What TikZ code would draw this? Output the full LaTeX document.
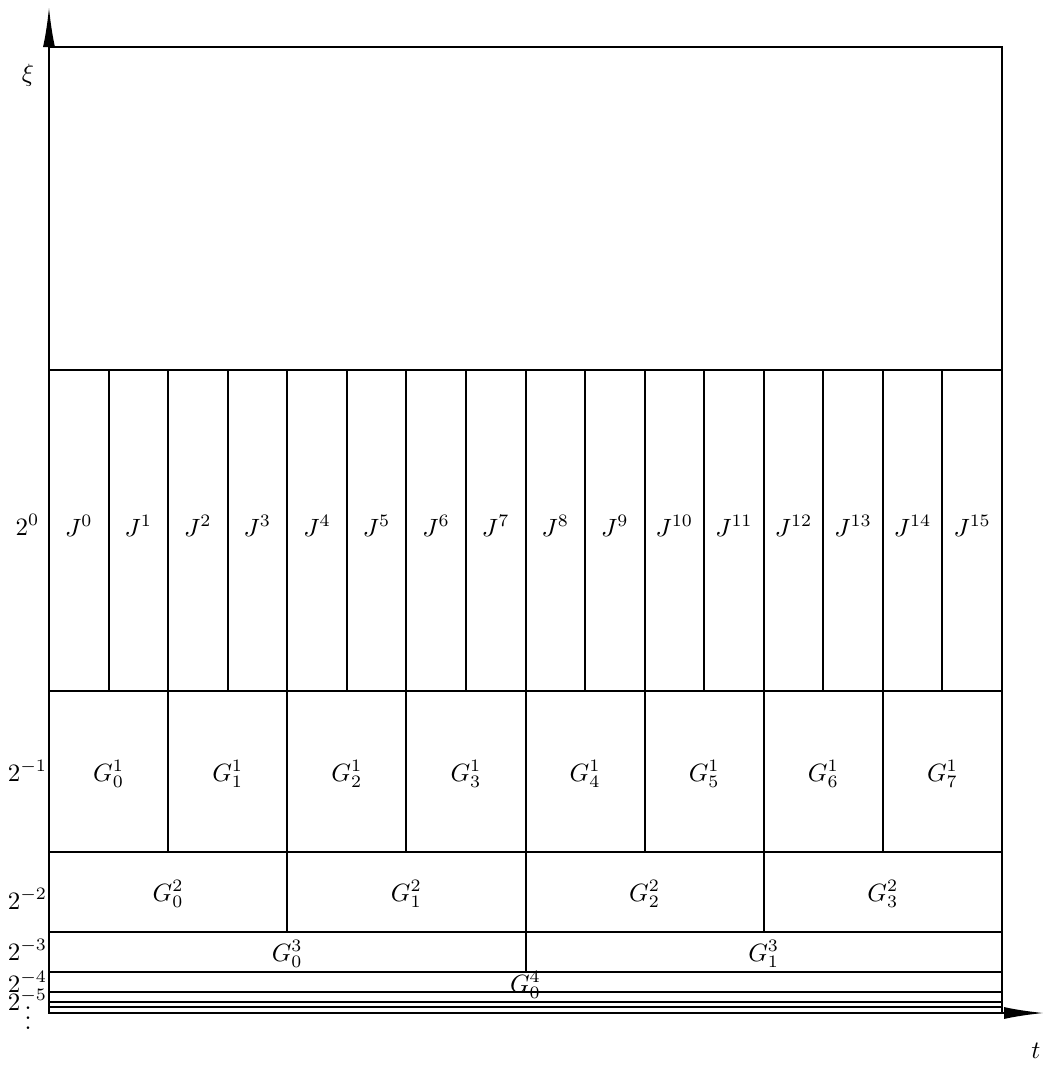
\documentclass[tikz,border=0pt]{standalone}
\usetikzlibrary{arrows.meta}
\begin{document}
\begin{tikzpicture}[x=1pt,y=-1pt,line width=2pt,
  lbl/.style={font=\fontsize{10}{12}\selectfont,inner sep=0pt,scale=2.5},
  axisarrow/.style={-{Latex[length=40pt,width=12pt]}}]
\useasboundingbox (0,0) rectangle (1046,1068);
\pgfmathsetmacro{\W}{953/16}
% frame
\draw (49,47) rectangle (1002,1013);
% horizontal band lines
\foreach \yy in {47,370,691,852,932,972,992,1002,1007}
  \draw (49,\yy) -- (1002,\yy);
% vertical lines
\foreach \k in {1,...,15}{
  \pgfmathsetmacro{\xx}{round(49+\k*\W)}
  \pgfmathsetmacro{\yy}{mod(\k,8)==0 ? 972 : (mod(\k,4)==0 ? 932 : (mod(\k,2)==0 ? 852 : 691))}
  \draw (\xx,370) -- (\xx,\yy);
}
% axes
\coordinate (O) at (49,1013);
\coordinate (ytip) at (49,7);
\coordinate (xtip) at (1044,1013);
\draw[axisarrow] (O) -- (ytip);
\draw[axisarrow] (O) -- (xtip);
\node[lbl] (xi) at (28,75) {$\xi$};
\node[lbl] (t) at (1036,1051) {$t$};
% J labels
\foreach \k in {0,...,15}
  \node[lbl,anchor=base] (J\k) at ({49+(\k+0.5)*\W},536) {$J^{\k}$};
% G labels
\foreach \k in {0,...,7}
  \node[lbl,anchor=base] (Ga\k) at ({49+(2*\k+1)*\W},781) {$G^1_{\k}$};
\foreach \k in {0,...,3}
  \node[lbl,anchor=base] (Gb\k) at ({49+(4*\k+2)*\W},901) {$G^2_{\k}$};
\foreach \k in {0,1}
  \node[lbl,anchor=base] (Gc\k) at ({49+(8*\k+4)*\W},961) {$G^3_{\k}$};
\node[lbl,anchor=base] (Gd0) at ({49+8*\W},992) {$G^4_{0}$};
% level labels
\node[lbl,anchor=base] (l0) at (27.5,535) {$2^{0}$};
\node[lbl,anchor=base] (l1) at (27.5,781) {$2^{-1}$};
\node[lbl,anchor=base] (l2) at (27.5,909) {$2^{-2}$};
\node[lbl,anchor=base] (l3) at (27.5,960) {$2^{-3}$};
\node[lbl,anchor=base] (l4) at (27.5,992) {$2^{-4}$};
\node[lbl,anchor=base] (l5) at (27.5,1010) {$2^{-5}$};
\node[lbl] (ld) at (28,1011) {$\vdots$};
\end{tikzpicture}
\end{document}
